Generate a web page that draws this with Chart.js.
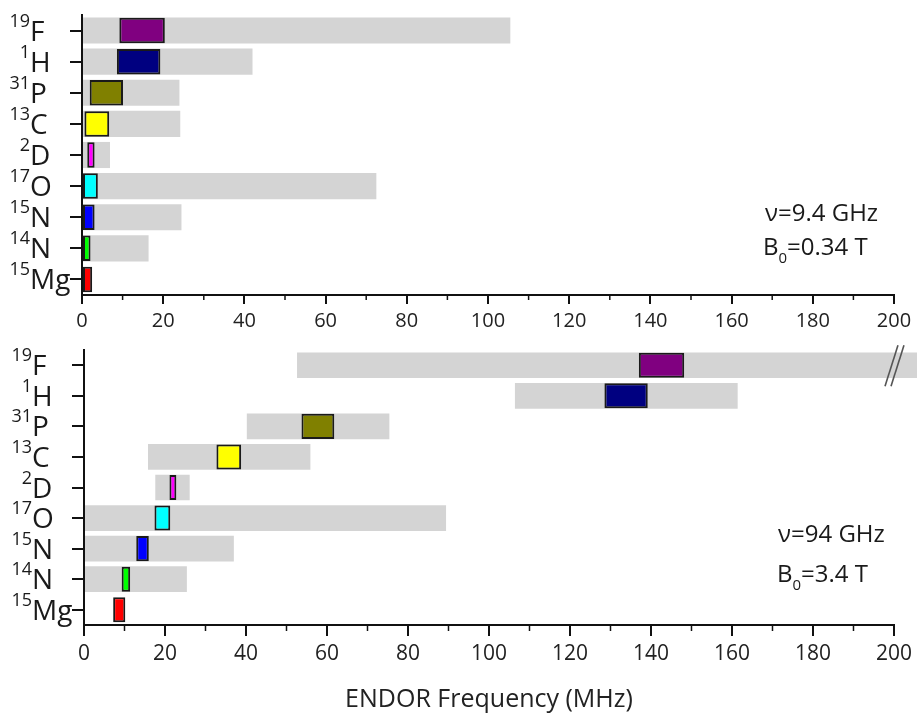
<!DOCTYPE html>
<html>
<head>
<meta charset="utf-8">
<script src="https://cdn.jsdelivr.net/npm/chart.js@4.4.1/dist/chart.umd.min.js"></script>
<style>
  html, body { margin: 0; padding: 0; background: #fff; }
  #wrap { position: relative; width: 917px; height: 715px; overflow: hidden; }
  .pane { position: absolute; left: 0; }
</style>
</head>
<body>
<div id="wrap">
  <div class="pane" style="top:0"><canvas id="chartLow" width="917" height="340"></canvas></div>
  <div class="pane" style="top:340px"><canvas id="chartHigh" width="917" height="375"></canvas></div>
</div>
<script>
// isotopes, top to bottom
const massNumbers = ['19', '1', '31', '13', '2', '17', '15', '14', '15'];
const elements = ['F', 'H', 'P', 'C', 'D', 'O', 'N', 'N', 'Mg'];
const isotopeColors = ['#800080', '#000080', '#808000', '#ffff00', '#ff00ff', '#00ffff', '#0000ff', '#00ff00', '#ff0000'];

// 9.4 GHz / 0.34 T: grey = frequency range, coloured = line position (MHz)
const xbandRangeStart = [0, 0, 0, 0, 0, 0, 0, 0, null];
const xbandRangeEnd = [105.5, 42, 24, 24.2, 6.9, 72.5, 24.5, 16.4, null];
const xbandLineStart = [9.2, 8.6, 1.9, 0.6, 1.3, 0, 0, 0, 0];
const xbandLineEnd = [20.4, 19.3, 10.1, 6.7, 3.1, 3.9, 3.1, 2.1, 2.5];

// 94 GHz / 3.4 T
const wbandRangeStart = [52.6, 106.4, 40.2, 15.8, 17.6, 0, 0, 0, null];
const wbandRangeEnd = [206, 161.4, 75.4, 55.9, 26.1, 89.4, 37.0, 25.4, null];
const wbandLineStart = [137, 128.5, 53.7, 32.7, 21.1, 17.4, 12.9, 9.3, 7.2];
const wbandLineEnd = [148.2, 139.2, 61.8, 38.8, 22.8, 21.3, 16.0, 11.4, 10.2];

const xTicks = { min: 0, max: 200, step: 20 };

Chart.defaults.font.family = '"Open Sans", sans-serif';
Chart.defaults.color = '#222';
Chart.defaults.animation = false;

const FONT = '"Open Sans", sans-serif';
const pairs = (a, b) => a.map((v, i) => (v === null ? null : [v, b[i]]));
const categoryLabels = massNumbers.map((m, i) => m + elements[i]);

// isotope names with superscript mass numbers
const isotopeLabels = {
  id: 'isotopeLabels',
  afterDraw(chart) {
    const ctx = chart.ctx;
    const yScale = chart.scales.y;
    const sx = chart.chartArea.left - 52;
    ctx.save();
    ctx.fillStyle = '#1a1a1a';
    ctx.textBaseline = 'alphabetic';
    elements.forEach((el, i) => {
      const py = yScale.getPixelForValue(i);
      ctx.font = '28px ' + FONT;
      ctx.textAlign = 'left';
      ctx.fillText(el, sx, py + 10);
      ctx.font = '18px ' + FONT;
      ctx.textAlign = 'right';
      ctx.fillText(massNumbers[i], sx, py - 4);
    });
    ctx.restore();
  }
};

// short minor ticks between the labelled ones
const minorTicks = {
  id: 'minorTicks',
  afterDraw(chart, args, opts) {
    const ctx = chart.ctx;
    const xs = chart.scales.x;
    ctx.save();
    ctx.strokeStyle = '#111';
    ctx.lineWidth = 1.5;
    for (let v = xTicks.min + xTicks.step / 2; v < xTicks.max; v += xTicks.step) {
      const px = xs.getPixelForValue(v);
      ctx.beginPath();
      ctx.moveTo(px, xs.top);
      ctx.lineTo(px, xs.top + opts.len);
      ctx.stroke();
    }
    ctx.restore();
  }
};

// field / frequency note on the right
const fieldNote = {
  id: 'fieldNote',
  afterDraw(chart, args, opts) {
    const ctx = chart.ctx;
    ctx.save();
    ctx.fillStyle = '#1a1a1a';
    ctx.textAlign = 'left';
    ctx.textBaseline = 'alphabetic';
    ctx.font = '24px ' + FONT;
    ctx.fillText('\u03bd=' + opts.freq, opts.x1, opts.y1);
    let x = opts.x2;
    ctx.fillText('B', x, opts.y2);
    x += ctx.measureText('B').width;
    ctx.font = '15px ' + FONT;
    ctx.fillText('0', x, opts.y2 + 8);
    x += ctx.measureText('0').width;
    ctx.font = '24px ' + FONT;
    ctx.fillText('=' + opts.field, x, opts.y2);
    ctx.restore();
  }
};

// axis break marks on the overflowing bar
const breakMarks = {
  id: 'breakMarks',
  afterDraw(chart, args, opts) {
    if (!opts.show) return;
    const ctx = chart.ctx;
    const px = chart.scales.x.getPixelForValue(xTicks.max);
    const py = chart.scales.y.getPixelForValue(0);
    ctx.save();
    ctx.strokeStyle = '#555';
    ctx.lineWidth = 1.6;
    [0, 6].forEach(d => {
      ctx.beginPath();
      ctx.moveTo(px + 4 + d, py - 20);
      ctx.lineTo(px - 9 + d, py + 21);
      ctx.stroke();
    });
    ctx.restore();
  }
};

function makeChart(id, cfg) {
  return new Chart(document.getElementById(id), {
    type: 'bar',
    data: {
      labels: categoryLabels,
      datasets: [
        {
          label: 'line',
          data: pairs(cfg.lineStart, cfg.lineEnd),
          backgroundColor: isotopeColors,
          borderColor: '#1a1a1a',
          borderWidth: 2,
          borderSkipped: false,
          grouped: false,
          categoryPercentage: 1,
          barPercentage: 0.82
        },
        {
          label: 'range',
          data: pairs(cfg.rangeStart, cfg.rangeEnd),
          backgroundColor: '#d4d4d4',
          borderWidth: 0,
          grouped: false,
          clip: false,
          categoryPercentage: 1,
          barPercentage: 0.84
        }
      ]
    },
    options: {
      indexAxis: 'y',
      responsive: false,
      maintainAspectRatio: false,
      layout: { padding: { top: cfg.padTop, right: cfg.padRight, left: 0, bottom: 0 } },
      plugins: {
        legend: { display: false },
        tooltip: { enabled: false },
        minorTicks: { len: cfg.minorLen },
        fieldNote: cfg.note,
        breakMarks: { show: cfg.breakMarks }
      },
      scales: {
        x: {
          type: 'linear',
          min: xTicks.min,
          max: xTicks.max,
          border: { display: true, color: '#111', width: 2 },
          grid: { drawOnChartArea: false, drawTicks: true, tickLength: cfg.majorLen, color: '#111', lineWidth: 2 },
          ticks: { stepSize: xTicks.step, font: { size: cfg.tickFont }, color: '#222', padding: cfg.tickPad, maxRotation: 0 },
          title: cfg.title ? { display: true, text: cfg.title, font: { size: 25 }, color: '#222', padding: { top: 0, bottom: 0 } } : { display: false },
          afterFit: s => { s.height = cfg.xHeight; }
        },
        y: {
          type: 'category',
          offset: true,
          border: { display: true, color: '#111', width: 2 },
          grid: { offset: false, drawOnChartArea: false, drawTicks: true, tickLength: 12, color: '#111', lineWidth: 2 },
          ticks: { display: false },
          afterFit: s => { s.width = cfg.yWidth; }
        }
      }
    },
    plugins: [isotopeLabels, minorTicks, fieldNote, breakMarks]
  });
}

makeChart('chartLow', {
  rangeStart: xbandRangeStart, rangeEnd: xbandRangeEnd,
  lineStart: xbandLineStart, lineEnd: xbandLineEnd,
  padTop: 15, padRight: 23, yWidth: 82, xHeight: 45,
  majorLen: 9, minorLen: 5, tickFont: 20, tickPad: 5,
  note: { freq: '9.4 GHz', field: '0.34 T', x1: 765, y1: 221, x2: 763, y2: 255 },
  breakMarks: false
});

makeChart('chartHigh', {
  rangeStart: wbandRangeStart, rangeEnd: wbandRangeEnd,
  lineStart: wbandLineStart, lineEnd: wbandLineEnd,
  padTop: 10, padRight: 20, yWidth: 84, xHeight: 90,
  majorLen: 11, minorLen: 6, tickFont: 21, tickPad: 5,
  title: 'ENDOR Frequency (MHz)',
  note: { freq: '94 GHz', field: '3.4 T', x1: 778, y1: 202, x2: 777, y2: 242 },
  breakMarks: true
});
</script>
</body>
</html>
